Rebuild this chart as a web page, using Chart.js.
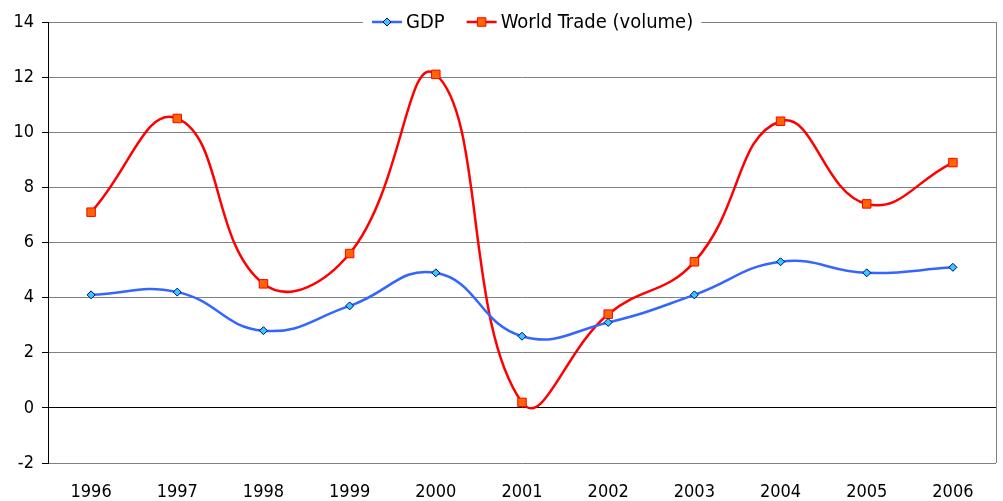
<!DOCTYPE html>
<html>
<head>
<meta charset="utf-8">
<script src="https://cdn.jsdelivr.net/npm/chart.js@4"></script>
<style>
  html,body{margin:0;padding:0;background:#fff;}
  #wrap{width:1003px;height:501px;}
</style>
</head>
<body>
<div id="wrap"><canvas id="c" width="1003" height="501"></canvas></div>
<script>
// ---- data ----
const years=['1996','1997','1998','1999','2000','2001','2002','2003','2004','2005','2006'];
const gdp=[4.1,4.2,2.8,3.7,4.9,2.6,3.1,4.1,5.3,4.9,5.1];
const trade=[7.1,10.5,4.5,5.6,12.1,0.2,3.4,5.3,10.4,7.4,8.9];
const yMin=-2, yMax=14, yStep=2;

const FONT='"DejaVu Sans Condensed", "DejaVu Sans", Verdana, sans-serif';

// legend drawn over the top border, like the original
const overlayLegend={
  id:'overlayLegend',
  afterDraw(chart){
    const ctx=chart.ctx, a=chart.chartArea;
    ctx.save();
    // right frame
    ctx.strokeStyle='#808080';ctx.lineWidth=1;
    ctx.beginPath();
    ctx.moveTo(a.right+0.5,a.top);ctx.lineTo(a.right+0.5,a.bottom);
    ctx.stroke();
    ctx.font='20px '+FONT;
    const items=chart.data.datasets.map(ds=>({ds,w:ctx.measureText(ds.label).width}));
    const sample=30, gap=4, between=22;
    let total=items.reduce((s,it)=>s+sample+gap+it.w,0)+between*(items.length-1);
    let x=372;
    const y=a.top;
    ctx.fillStyle='#fff';
    ctx.fillRect(x-9,y-10,total+17,20);
    items.forEach(it=>{
      const ds=it.ds;
      ctx.strokeStyle=ds.borderColor;ctx.lineWidth=2.5;
      ctx.beginPath();ctx.moveTo(x,y);ctx.lineTo(x+sample,y);ctx.stroke();
      ctx.fillStyle=ds.pointBackgroundColor;ctx.strokeStyle=ds.pointBorderColor;ctx.lineWidth=1;
      ctx.beginPath();
      const cx=x+sample/2;
      if(ds.pointStyle==='rect'){const s=ds.pointRadius*Math.SQRT1_2;ctx.rect(cx-s,y-s,2*s,2*s);}
      else{const r=ds.pointRadius;ctx.moveTo(cx,y-r);ctx.lineTo(cx+r,y);ctx.lineTo(cx,y+r);ctx.lineTo(cx-r,y);ctx.closePath();}
      ctx.fill();ctx.stroke();
      ctx.fillStyle='#000';ctx.textBaseline='middle';ctx.textAlign='left';
      ctx.fillText(ds.label,x+sample+gap,y+1);
      x+=sample+gap+it.w+between;
    });
    ctx.restore();
  }
};

new Chart(document.getElementById('c'),{
  type:'line',
  data:{labels:years,datasets:[
    {label:'GDP',data:gdp,borderColor:'#3366ff',borderWidth:2.5,tension:0.45,
     pointStyle:'rectRot',pointRadius:4,pointBackgroundColor:'#33ccff',pointBorderColor:'#000080',pointBorderWidth:1},
    {label:'World Trade (volume)',data:trade,borderColor:'#ff0000',borderWidth:2.5,tension:0.45,
     pointStyle:'rect',pointRadius:6,pointBackgroundColor:'#ff6600',pointBorderColor:'#ff0000',pointBorderWidth:1}
  ]},
  options:{
    responsive:false,animation:false,
    layout:{padding:{top:22,right:6,left:0,bottom:0}},
    plugins:{legend:{display:false},tooltip:{enabled:false}},
    scales:{
      x:{offset:true,
         grid:{display:false,drawTicks:false},border:{display:false},
         ticks:{color:'#000',font:{family:FONT,size:18},padding:19,maxRotation:0},
         afterFit:s=>{s.height=38;}},
      y:{min:yMin,max:yMax,
         ticks:{stepSize:yStep,color:'#000',font:{family:FONT,size:18},padding:8},
         grid:{color:c=>c.tick&&c.tick.value===0?'#000':'#808080',lineWidth:1,tickLength:6,tickColor:'#000'},
         border:{display:true,color:'#000',width:1},
         afterFit:s=>{s.width=48;}}
    }
  },
  plugins:[overlayLegend]
});
</script>
</body>
</html>
